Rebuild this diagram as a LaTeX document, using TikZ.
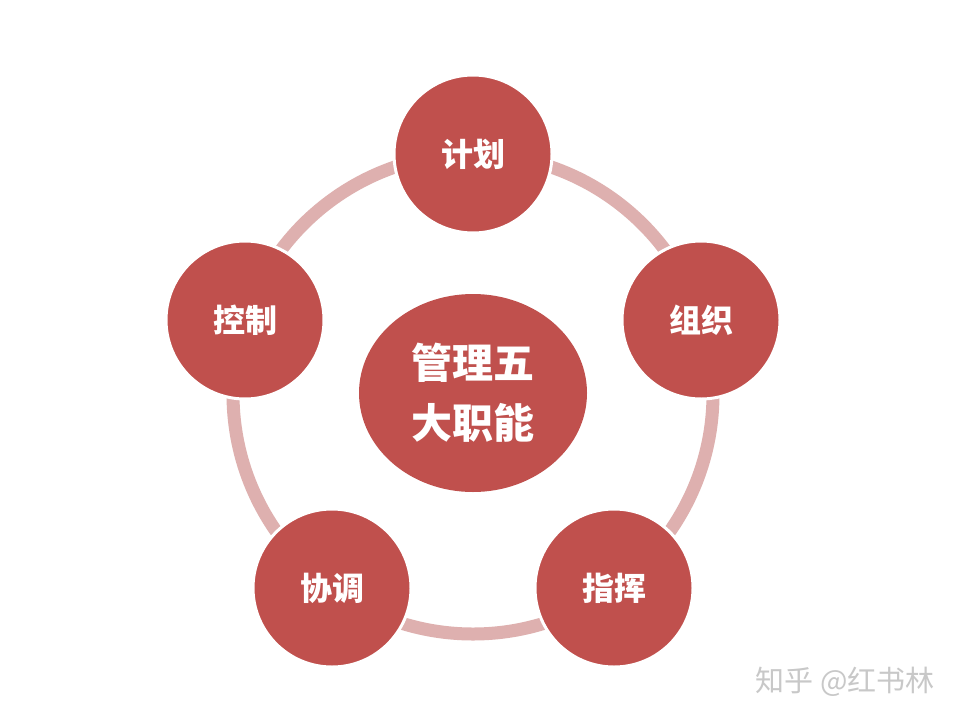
\documentclass[tikz,border=0pt]{standalone}
\usepackage{fontspec}
\usetikzlibrary{shapes.geometric}
\newfontfamily\cjk{Noto Sans CJK SC}
\definecolor{fillred}{RGB}{192,80,77}
\definecolor{ringpink}{RGB}{222,176,175}
\definecolor{markgray}{RGB}{200,200,200}
\begin{document}
\begin{tikzpicture}[x=1pt,y=-1pt,
  fn/.style={circle,fill=fillred,draw=white,line width=3pt,minimum size=158pt,inner sep=0pt,
    text=white,font=\cjk\bfseries\fontsize{32}{36}\selectfont},
  hub/.style={ellipse,fill=fillred,minimum width=228pt,minimum height=198pt,inner sep=0pt,
    text=white,align=center,font=\cjk\bfseries\fontsize{41}{60}\selectfont},
  ring/.style={draw=ringpink,line width=13pt}]
\useasboundingbox (0,0) rectangle (960,720);
\fill[white] (0,0) rectangle (960,720);
\coordinate (c) at (473,394);
\draw[ring] (c) circle[radius=240];
\node[fn] (plan) at (473,154) {计划};
\node[fn] (org) at (701,320) {组织};
\node[fn] (cmd) at (614,588) {指挥};
\node[fn] (coord) at (332,588) {协调};
\node[fn] (ctrl) at (245,320) {控制};
\node[hub] (hub) at (473,393) {管理五\\大职能};
\node[text=markgray,font=\cjk\fontsize{29}{32}\selectfont,anchor=west] (mark) at (752,682) {知乎 @红书林};
\end{tikzpicture}
\end{document}
